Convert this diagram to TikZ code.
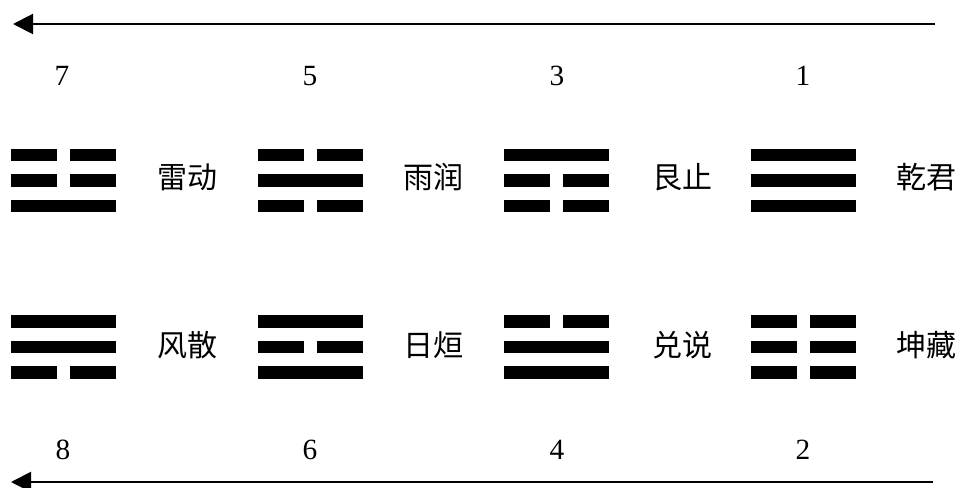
\documentclass[tikz,border=0pt]{standalone}
\usepackage{fontspec}
\setmainfont{Liberation Serif}
\newfontfamily\cjk{Noto Sans CJK SC}
\usetikzlibrary{arrows.meta}
\tikzset{
  num/.style={font=\fontsize{22}{24}\selectfont, inner sep=0pt, anchor=center},
  lab/.style={font=\cjk\fontsize{22.5}{24}\selectfont, inner sep=0pt, anchor=center},
  flow/.style={line width=1.5pt, -{Triangle[length=15pt,width=15pt]}},
  bar/.style={fill=black, draw=none}
}
% \yao{x}{y}{type}: type 1 = solid, 0 = broken
\newcommand{\yao}[3]{%
  \ifnum#3=1
    \fill[bar] (#1,#2) rectangle ++(105,12.5);
  \else
    \fill[bar] (#1,#2) rectangle ++(46,12.5);
    \fill[bar] (#1+59,#2) rectangle ++(46,12.5);
  \fi}
\newcommand{\gua}[5]{\yao{#1}{#2}{#3}\yao{#1}{#2+25.5}{#4}\yao{#1}{#2+51}{#5}}
\begin{document}
\begin{tikzpicture}[x=0.75pt,y=-0.75pt]
\useasboundingbox (0,0) rectangle (960,488);
% arrows
\coordinate (ta) at (935,24);
\coordinate (tb) at (13,24);
\coordinate (ba) at (933,482);
\coordinate (bb) at (11,482);
\draw[flow] (ta) -- (tb);
\draw[flow] (ba) -- (bb);
% numbers
\node[num] (n7) at (62,76) {7};
\node[num] (n5) at (310,76) {5};
\node[num] (n3) at (557,76) {3};
\node[num] (n1) at (803,76) {1};
\node[num] (n8) at (63,450) {8};
\node[num] (n6) at (310,450) {6};
\node[num] (n4) at (557,450) {4};
\node[num] (n2) at (803,450) {2};
% trigrams top row (top to bottom)
\gua{11}{149}{0}{0}{1}
\gua{258}{149}{0}{1}{0}
\gua{504}{149}{1}{0}{0}
\gua{751}{149}{1}{1}{1}
% trigrams bottom row
\gua{11}{315}{1}{1}{0}
\gua{258}{315}{1}{0}{1}
\gua{504}{315}{0}{1}{1}
\gua{751}{315}{0}{0}{0}
% labels
\node[lab] (l1) at (187,177) {雷动};
\node[lab] (l2) at (433,177) {雨润};
\node[lab] (l3) at (682,177) {艮止};
\node[lab] (l4) at (926,177) {乾君};
\node[lab] (l5) at (187,345) {风散};
\node[lab] (l6) at (433,345) {日烜};
\node[lab] (l7) at (682,345) {兑说};
\node[lab] (l8) at (926,345) {坤藏};
\end{tikzpicture}
\end{document}
